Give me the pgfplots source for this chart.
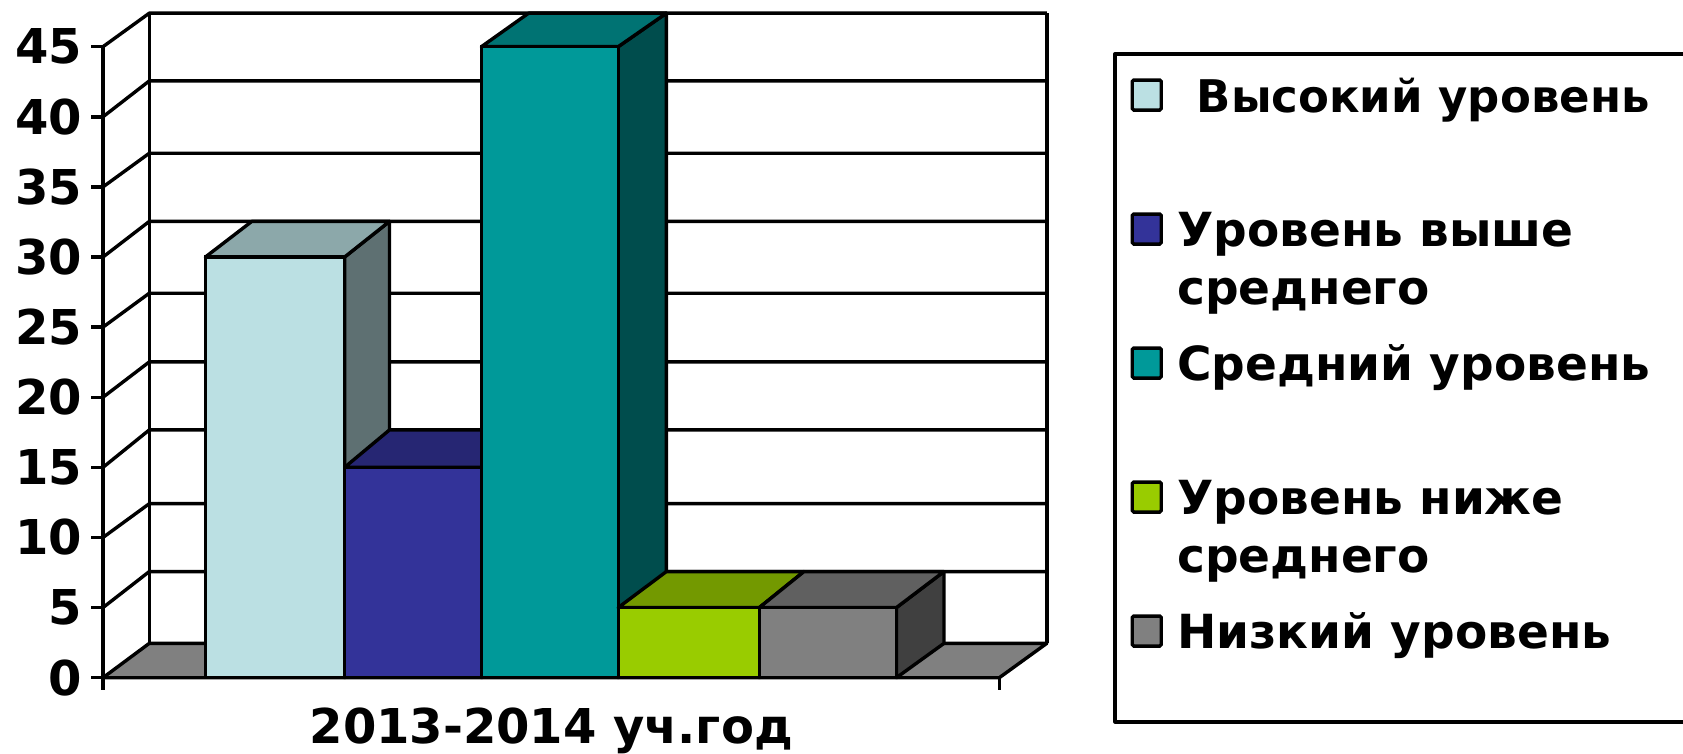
\documentclass[border=0pt]{standalone}
\usepackage{fontspec}
\setmainfont{DejaVu Sans}
\usepackage{pgfplots}
\pgfplotsset{compat=1.18}
\definecolor{c1}{HTML}{BBE0E3}\definecolor{c1t}{HTML}{8CA8AA}\definecolor{c1s}{HTML}{5E7072}
\definecolor{c2}{HTML}{333399}\definecolor{c2t}{HTML}{262673}\definecolor{c2s}{HTML}{1A1A4D}
\definecolor{c3}{HTML}{009999}\definecolor{c3t}{HTML}{007373}\definecolor{c3s}{HTML}{004D4D}
\definecolor{c4}{HTML}{99CC00}\definecolor{c4t}{HTML}{739900}\definecolor{c4s}{HTML}{4D6600}
\definecolor{c5}{HTML}{808080}\definecolor{c5t}{HTML}{606060}\definecolor{c5s}{HTML}{404040}
\newcommand\bigbold{\bfseries\fontsize{48}{58}\selectfont}
\newcommand\lgt[3][47]{\rule{0pt}{#2pt}\parbox[t]{490pt}{\bfseries\fontsize{#1}{58}\selectfont #3}}
\pgfplotsset{
  face/.style={line width=3.4pt,draw=black,line join=round,forget plot},
  wire/.style={line width=3.4pt,draw=black,line join=round,forget plot},
  swatch/.style={legend image code/.code={
    \path[draw=none,fill=none] (0pt,0pt) rectangle (62pt,1pt);
    \draw[fill=#1,draw=black,line width=3.4pt,rounded corners=1.5pt] (17pt,2pt) rectangle (46pt,32pt);
  }},
  frontbar/.style 2 args={ybar,bar shift=0pt,bar width=#1pt,fill=#2,draw=black,line width=3.4pt,swatch=#2},
}
\begin{document}
\begin{tikzpicture}[x=1pt,y=1pt]
\path[use as bounding box,clip] (0pt,0pt) rectangle (1683pt,753pt);
\begin{axis}[
  at={(103pt,75.3pt)},anchor=south west,
  scale only axis,width=896.3pt,height=631pt,
  xmin=103,xmax=999.3,ymin=0,ymax=45,
  clip=false,
  axis x line=bottom,axis y line=left,
  axis line style={-,line width=3.4pt,black},
  xtick={103,999.3},xticklabels={},
  ytick={0,5,10,15,20,25,30,35,40,45},
  tick style={line width=3.4pt,black},
  tick align=outside,major tick length=12pt,
  /pgf/number format/assume math mode=true,
  yticklabel style={font=\bigbold,inner sep=0pt,xshift=-9pt},
  xlabel={2013-2014 уч.год},
  xlabel style={font=\bigbold,at={(axis description cs:0.5,-0.1035)},anchor=base},
  legend cell align=left,
  legend style={at={(axis cs:1115,44.49)},anchor=north west,draw=none,fill=none,
    inner sep=0pt,nodes={inner sep=0pt},row sep=0pt,cells={anchor=base west}},
]
% floor
\addplot[face,fill=c5] coordinates {(103,0)(149.3,2.45)(1046.8,2.45)(999.3,0)} --cycle;
% back wall
\addplot[wire] coordinates {(149.3,2.45)(149.3,47.39)};
\addplot[wire] coordinates {(1046.8,2.45)(1046.8,47.39)};
\addplot[wire] coordinates {(103,45)(149.3,47.39)(1046.8,47.39)};
\addplot[wire] coordinates {(103,40)(149.3,42.56)(1046.8,42.56)};
\addplot[wire] coordinates {(103,35)(149.3,37.40)(1046.8,37.40)};
\addplot[wire] coordinates {(103,30)(149.3,32.54)(1046.8,32.54)};
\addplot[wire] coordinates {(103,25)(149.3,27.42)(1046.8,27.42)};
\addplot[wire] coordinates {(103,20)(149.3,22.52)(1046.8,22.52)};
\addplot[wire] coordinates {(103,15)(149.3,17.67)(1046.8,17.67)};
\addplot[wire] coordinates {(103,10)(149.3,12.41)(1046.8,12.41)};
\addplot[wire] coordinates {(103,5)(149.3,7.57)(1046.8,7.57)};
% legend frame: its right side lies beyond the picture in the reference
\addplot[wire] coordinates {(1700,44.49)(1115,44.49)(1115,-3.15)(1700,-3.15)};
% bar 1
\addplot[face,fill=c1s] coordinates {(344.6,0)(344.6,30)(389.5,32.54)(389.5,2.45)} --cycle;
\addplot[face,fill=c1t] coordinates {(205.4,30)(251.8,32.54)(389.5,32.54)(344.6,30)} --cycle;
\addplot[frontbar={139.2}{c1}] coordinates {(275,30)};
\addlegendentry{\lgt[45]{58}{\hspace*{19.5pt}Высокий уровень}}
% bar 2
\addplot[face,fill=c2s] coordinates {(481.4,0)(481.4,15)(528,17.67)(528,2.45)} --cycle;
\addplot[face,fill=c2t] coordinates {(344.6,15)(389.5,17.67)(528,17.67)(481.4,15)} --cycle;
\addplot[frontbar={136.8}{c2}] coordinates {(413,15)};
\addlegendentry{\lgt{132.5}{Уровень выше\\среднего}}
% bar 3
\addplot[face,fill=c3s] coordinates {(618.2,0)(618.2,45)(666.4,47.39)(666.4,2.45)} --cycle;
\addplot[face,fill=c3t] coordinates {(481.4,45)(528.6,47.39)(666.4,47.39)(618.2,45)} --cycle;
\addplot[frontbar={136.8}{c3}] coordinates {(549.8,45)};
\addlegendentry{\lgt{132.5}{Средний уровень}}
% bar 4
\addplot[face,fill=c4s] coordinates {(759.3,0)(759.3,5)(804,7.57)(804,2.45)} --cycle;
\addplot[face,fill=c4t] coordinates {(618.2,5)(666.4,7.57)(804,7.57)(759.3,5)} --cycle;
\addplot[frontbar={141.1}{c4}] coordinates {(688.75,5)};
\addlegendentry{\lgt{132.5}{Уровень ниже\\среднего}}
% bar 5
\addplot[face,fill=c5s] coordinates {(896.4,0)(896.4,5)(944,7.57)(944,2.45)} --cycle;
\addplot[face,fill=c5t] coordinates {(759.3,5)(804,7.57)(944,7.57)(896.4,5)} --cycle;
\addplot[frontbar={137.1}{c5}] coordinates {(827.85,5)};
\addlegendentry{\lgt{132.5}{Низкий уровень}}
\end{axis}
\end{tikzpicture}
\end{document}
